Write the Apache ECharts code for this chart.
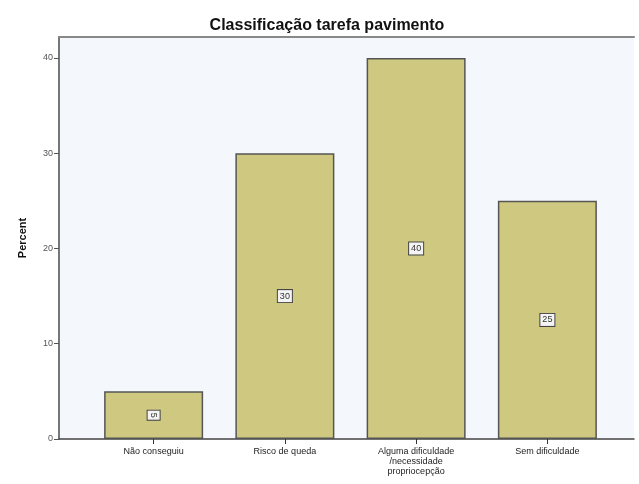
<!DOCTYPE html>
<html>
<head>
<meta charset="utf-8">
<script src="https://cdn.jsdelivr.net/npm/echarts@6/dist/echarts.min.js"></script>
<style>
  html, body { margin: 0; padding: 0; background: #fff; }
  #chart { width: 639px; height: 484px; }
</style>
</head>
<body>
<div id="chart"></div>
<script>
// dados
const categories = ['Não conseguiu', 'Risco de queda', 'Alguma dificuldade\n/necessidade\npropriocepção', 'Sem dificuldade']
const percents = [5, 30, 40, 25]
const yTicks = [0, 10, 20, 30, 40]

const chart = echarts.init(document.getElementById('chart'))

chart.setOption({
  animation: false,
  title: {
    text: 'Classificação tarefa pavimento',
    left: 322,
    textAlign: 'center',
    top: 13,
    textStyle: { fontFamily: 'Arial', fontSize: 16, fontWeight: 'bold', color: '#111' }
  },
  grid: [
    // moldura do gráfico
    { left: 59, right: 5, top: 37, bottom: 45, show: true, backgroundColor: '#f4f7fb', borderWidth: 0 },
    // barras
    { left: 88, right: 26, top: 37, bottom: 45 }
  ],
  xAxis: [
    {
      gridIndex: 0, type: 'value', min: 0, max: 1, position: 'top',
      axisLine: { show: true, onZero: false, lineStyle: { color: '#888', width: 2 } },
      axisTick: { show: false }, axisLabel: { show: false }, splitLine: { show: false }
    },
    {
      gridIndex: 0, type: 'value', min: 0, max: 1, position: 'bottom',
      axisLine: { show: true, onZero: false, lineStyle: { color: '#444', width: 1.5 } },
      axisTick: { show: false }, axisLabel: { show: false }, splitLine: { show: false }
    },
    {
      gridIndex: 1, type: 'category', data: categories,
      axisLine: { show: false },
      axisTick: { show: true, alignWithLabel: true, length: 5, lineStyle: { color: '#333' } },
      axisLabel: { fontFamily: 'Arial', fontSize: 9, color: '#222', lineHeight: 10, margin: 8 }
    }
  ],
  yAxis: [
    {
      gridIndex: 0, type: 'value', min: 0, max: 42.2,
      name: 'Percent', nameLocation: 'middle', nameGap: 31,
      nameTextStyle: { fontFamily: 'Arial', fontSize: 11, fontWeight: 'bold', color: '#111' },
      axisLine: { show: true, onZero: false, lineStyle: { color: '#777', width: 2 } },
      axisTick: { show: true, length: 5, customValues: yTicks, lineStyle: { color: '#555' } },
      axisLabel: { fontFamily: 'Arial', fontSize: 9, color: '#555', margin: 6, customValues: yTicks },
      splitLine: { show: false }
    },
    {
      gridIndex: 1, type: 'value', min: 0, max: 42.2, show: false
    }
  ],
  series: [
    {
      type: 'bar',
      xAxisIndex: 2,
      yAxisIndex: 1,
      barWidth: 99,
      data: percents.map((v, i) => i === 0
        ? { value: v, label: { rotate: -90 } }
        : v),
      itemStyle: { color: '#cfc880', borderColor: '#555', borderWidth: 1.5 },
      label: {
        show: true,
        position: 'inside',
        fontFamily: 'Arial',
        fontSize: 9,
        color: '#333',
        backgroundColor: '#f4f4f4',
        borderColor: '#444',
        borderWidth: 1,
        padding: [2, 2, 1, 2]
      }
    }
  ]
})
</script>
</body>
</html>
